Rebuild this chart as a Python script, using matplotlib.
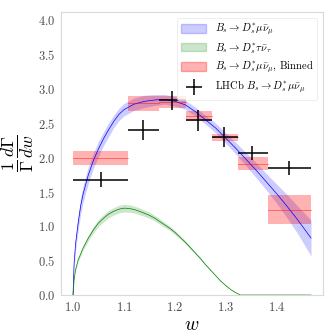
import numpy as np
import matplotlib
matplotlib.use('Agg')
from matplotlib import pyplot as plt
from matplotlib.patches import Patch
from matplotlib.lines import Line2D

plt.rcParams['font.family'] = 'serif'
plt.rcParams['font.serif'] = ['cmr10']
plt.rcParams['mathtext.fontset'] = 'cm'
plt.rcParams['axes.formatter.use_mathtext'] = True
plt.rcParams['axes.unicode_minus'] = False

# Bs -> Ds* mu nu (normalised shape)
w_mu = [1.0, 1.002, 1.005, 1.01, 1.015, 1.02, 1.03, 1.04, 1.05, 1.06, 1.07, 1.08, 1.09,
        1.10, 1.12, 1.14, 1.16, 1.18, 1.20, 1.22, 1.24, 1.26, 1.28, 1.30, 1.32, 1.34,
        1.36, 1.38, 1.40, 1.42, 1.44, 1.4667]
dg_mu = [0.0, 0.45, 0.75, 1.05, 1.30, 1.48, 1.75, 1.96, 2.13, 2.28, 2.41, 2.53, 2.63,
         2.70, 2.78, 2.82, 2.84, 2.85, 2.82, 2.77, 2.67, 2.55, 2.43, 2.28, 2.13, 1.97,
         1.81, 1.64, 1.47, 1.29, 1.10, 0.83]
err_mu = [0.0, 0.06, 0.09, 0.11, 0.12, 0.12, 0.12, 0.11, 0.11, 0.10, 0.10, 0.09, 0.09,
          0.09, 0.09, 0.09, 0.08, 0.07, 0.07, 0.065, 0.065, 0.065, 0.07, 0.075, 0.085, 0.095,
          0.11, 0.12, 0.14, 0.17, 0.20, 0.26]

# Bs -> Ds* tau nu
w_tau = [1.0, 1.002, 1.005, 1.01, 1.02, 1.03, 1.04, 1.05, 1.06, 1.07, 1.08, 1.09, 1.10,
         1.11, 1.12, 1.13, 1.14, 1.15, 1.16, 1.17, 1.18, 1.19, 1.20, 1.21, 1.22, 1.23,
         1.24, 1.25, 1.26, 1.27, 1.28, 1.29, 1.30, 1.31, 1.32, 1.328, 1.40, 1.4667]
dg_tau = [0.0, 0.22, 0.37, 0.51, 0.69, 0.83, 0.95, 1.05, 1.12, 1.18, 1.22, 1.25, 1.265,
          1.26, 1.245, 1.22, 1.19, 1.16, 1.12, 1.07, 1.02, 0.97, 0.91, 0.84, 0.77, 0.69,
          0.61, 0.53, 0.44, 0.36, 0.28, 0.20, 0.135, 0.075, 0.03, 0.0, 0.0, 0.0]
err_tau = [0.0, 0.015, 0.02, 0.025, 0.03, 0.04, 0.045, 0.05, 0.055, 0.055, 0.055, 0.055, 0.055,
           0.055, 0.05, 0.05, 0.045, 0.045, 0.04, 0.04, 0.035, 0.03, 0.03, 0.025, 0.02, 0.02,
           0.015, 0.015, 0.01, 0.01, 0.008, 0.006, 0.005, 0.003, 0.002, 0.0, 0.0, 0.0]

# binned prediction and LHCb data (same w bins)
bin_edges = [1.0, 1.1087, 1.1688, 1.2212, 1.2717, 1.3226, 1.3814, 1.4667]
bin_pred = [2.00, 2.79, 2.81, 2.61, 2.30, 1.915, 1.245]
bin_pred_err = [0.10, 0.11, 0.09, 0.073, 0.05, 0.097, 0.21]
lhcb_w = [1.055, 1.138, 1.194, 1.246, 1.296, 1.351, 1.423]
lhcb_val = [1.68, 2.40, 2.836, 2.545, 2.30, 2.07, 1.852]
lhcb_err = [0.11, 0.145, 0.14, 0.15, 0.145, 0.105, 0.105]

fig = plt.figure(figsize=(3.36, 3.36), dpi=100)
ax = fig.add_axes([0.182, 0.122, 0.779, 0.842])

w_mu = np.array(w_mu)
dg_mu = np.array(dg_mu)
err_mu = np.array(err_mu)
w_tau = np.array(w_tau)
dg_tau = np.array(dg_tau)
err_tau = np.array(err_tau)

ax.plot(w_mu, dg_mu, color='blue', lw=0.5)
ax.fill_between(w_mu, dg_mu - err_mu, dg_mu + err_mu, color='blue', alpha=0.2, lw=0)
ax.plot(w_tau, dg_tau, color='green', lw=0.5)
ax.fill_between(w_tau, dg_tau - err_tau, dg_tau + err_tau, color='green', alpha=0.2, lw=0)

for i in range(len(bin_pred)):
    lo, hi = bin_edges[i], bin_edges[i + 1]
    ax.fill_between([lo, hi], bin_pred[i] - bin_pred_err[i], bin_pred[i] + bin_pred_err[i],
                    color='red', alpha=0.3, lw=0)
    ax.plot([lo, hi], [bin_pred[i], bin_pred[i]], color='red', lw=0.5, alpha=0.6)

xerr_lo = [lhcb_w[i] - bin_edges[i] for i in range(len(lhcb_w))]
xerr_hi = [bin_edges[i + 1] - lhcb_w[i] for i in range(len(lhcb_w))]
ax.errorbar(lhcb_w, lhcb_val, xerr=[xerr_lo, xerr_hi], yerr=lhcb_err, fmt='none',
            ecolor='black', elinewidth=1.1, capsize=0)

ax.set_ylim(0, 4.12)
ax.set_xlabel(r'$w$', fontsize=14, labelpad=2)
ax.set_ylabel(r'$\frac{1}{\Gamma}\frac{d\Gamma}{dw}$', fontsize=18, labelpad=1)
ax.tick_params(length=0, labelsize=9, labelcolor='0.3', pad=4)
for s in ax.spines.values():
    s.set_color('0.85')
    s.set_linewidth(0.8)

handles = [Patch(color='blue', alpha=0.2), Patch(color='green', alpha=0.2),
           Patch(color='red', alpha=0.3),
           Line2D([], [], color='black', marker='+', ls='none', markersize=11, markeredgewidth=1.1)]
labels = [r'$B_s\to D_s^{*}\mu\bar{\nu}_\mu$', r'$B_s\to D_s^{*}\tau\bar{\nu}_\tau$',
          r'$B_s\to D_s^{*}\mu\bar{\nu}_\mu$, Binned', r'LHCb $B_s\to D_s^{*}\mu\bar{\nu}_\mu$']
leg = ax.legend(handles, labels, loc='upper right', fontsize=7.6, handlelength=2.4,
                handleheight=0.8, handletextpad=0.8, labelspacing=0.28, borderpad=0.35,
                frameon=True, fancybox=True, borderaxespad=0.55)
leg.get_frame().set_edgecolor('0.9')
leg.get_frame().set_linewidth(0.6)

fig.savefig('out.png', dpi=100)
